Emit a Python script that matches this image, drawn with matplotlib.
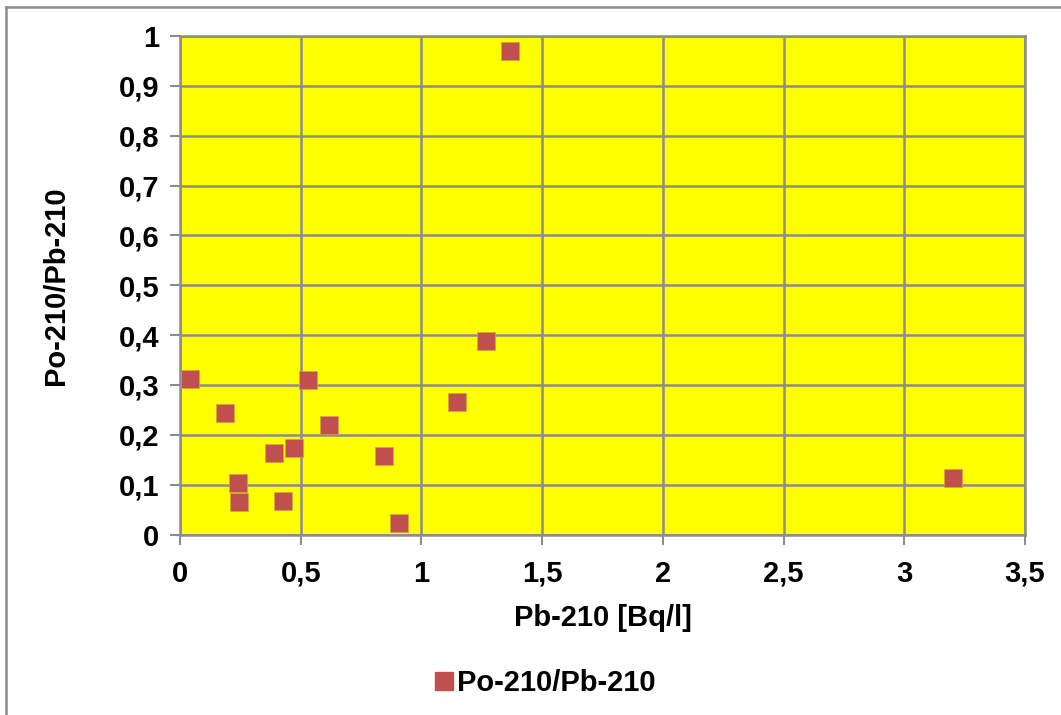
import matplotlib
matplotlib.use("Agg")
import matplotlib.pyplot as plt
from matplotlib.lines import Line2D
from matplotlib.ticker import FuncFormatter

# Pb-210 activity concentration [Bq/l] and Po-210/Pb-210 activity ratio
pb210 = [0.043, 0.531, 0.186, 0.617, 0.391, 0.473, 0.239, 0.243, 0.427,
         1.268, 1.148, 0.846, 0.906, 1.368, 3.200]
ratio = [0.311, 0.309, 0.243, 0.220, 0.163, 0.173, 0.104, 0.065, 0.068,
         0.389, 0.266, 0.158, 0.023, 0.970, 0.113]

series_name = "Po-210/Pb-210"
x_label = "Pb-210 [Bq/l]"
y_label = "Po-210/Pb-210"
x_ticks = [0, 0.5, 1, 1.5, 2, 2.5, 3, 3.5]
y_ticks = [0, 0.1, 0.2, 0.3, 0.4, 0.5, 0.6, 0.7, 0.8, 0.9, 1.0]

plt.rcParams["font.family"] = ["Liberation Sans", "DejaVu Sans"]
plt.rcParams["font.weight"] = "bold"

FS = 21
W, H = 1061, 715
fig = plt.figure(figsize=(W / 100, H / 100), dpi=100)
ax = fig.add_axes([180 / W, 1 - 534.5 / H, (1025 - 180) / W, (534.5 - 36) / H])

grid_color = "#8c8c8c"
marker_color = "#C0504D"

ax.set_facecolor("#FFFF00")
ax.scatter(pb210, ratio, marker="s", s=13.3 ** 2, color=marker_color,
           edgecolors="#d8a04a", linewidths=0.5, zorder=3, clip_on=False)

ax.set_xlim(0, 3.5)
ax.set_ylim(0, 1.0)
ax.set_xticks(x_ticks)
ax.set_yticks(y_ticks)

def comma_fmt(v, pos):
    s = f"{v:.1f}".rstrip("0").rstrip(".")
    return s.replace(".", ",")

ax.xaxis.set_major_formatter(FuncFormatter(comma_fmt))
ax.yaxis.set_major_formatter(FuncFormatter(comma_fmt))

ax.grid(True, color=grid_color, linewidth=1.8, zorder=1)
ax.set_axisbelow(True)
for side in ["top", "right", "left", "bottom"]:
    ax.spines[side].set_color(grid_color)
    ax.spines[side].set_linewidth(1.8)

ax.tick_params(axis="both", which="major", length=7, width=1.5, color=grid_color,
               labelsize=FS, pad=8, direction="out")
ax.tick_params(axis="x", pad=11)
for lab in ax.get_xticklabels() + ax.get_yticklabels():
    lab.set_fontweight("bold")

ax.set_xlabel(x_label, fontsize=FS, fontweight="bold", labelpad=12)
ax.set_ylabel(y_label, fontsize=FS, fontweight="bold", labelpad=35)

handle = Line2D([], [], marker="s", linestyle="none", markersize=13.3,
                markerfacecolor=marker_color, markeredgecolor=marker_color)
fig.legend([handle], [series_name], loc="center", bbox_to_anchor=(535 / W, 1 - 683 / H),
           frameon=False, handletextpad=-0.55, borderaxespad=0,
           prop={"weight": "bold", "size": FS})

# outer chart frame (left and top edges)
fig.add_artist(Line2D([6 / W, 6 / W], [0, 1 - 7 / H], transform=fig.transFigure,
                      color="#8c8c8c", linewidth=1.8))
fig.add_artist(Line2D([6 / W, 1], [1 - 7 / H, 1 - 7 / H], transform=fig.transFigure,
                      color="#8c8c8c", linewidth=1.8))

fig.savefig("out.png", dpi=100, facecolor="white")
